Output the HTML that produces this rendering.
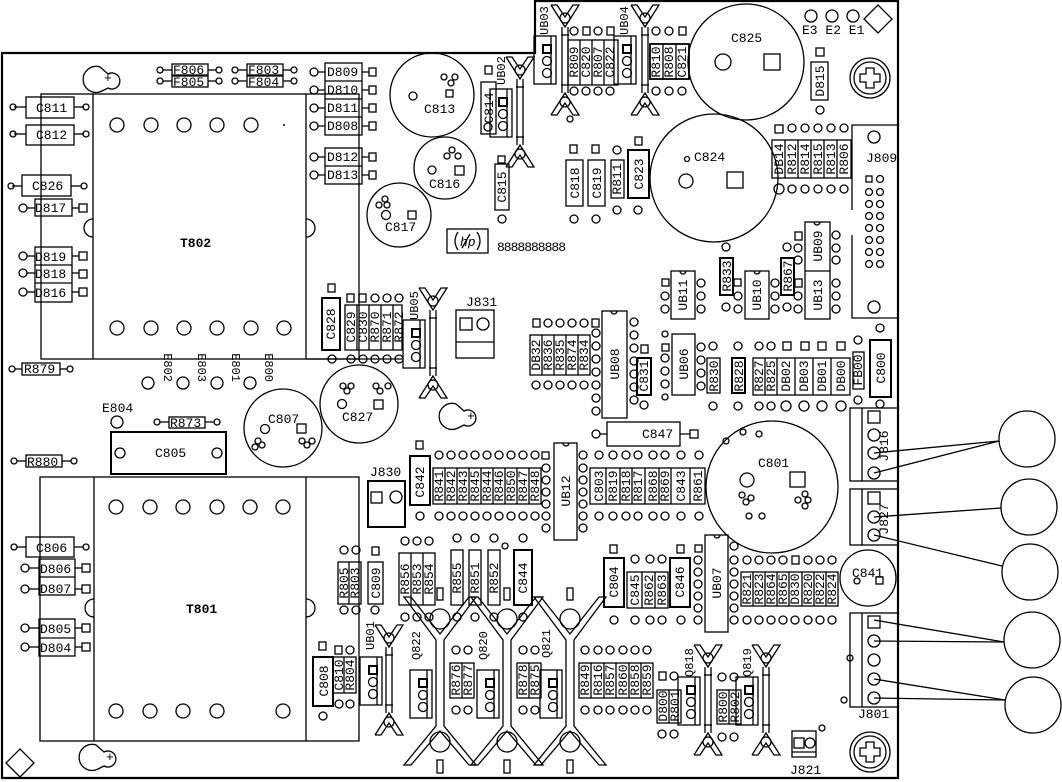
<!DOCTYPE html>
<html><head><meta charset="utf-8"><style>
html,body{margin:0;padding:0;background:#fff}
svg{display:block}
.s{fill:none;stroke:#000;stroke-width:1.3}
.b{fill:none;stroke:#000;stroke-width:2.2}
text{font-family:"Liberation Mono",monospace;font-size:13px;fill:#000}
.v{font-size:12px}
</style></head><body>
<svg width="1062" height="782" viewBox="0 0 1062 782" xmlns="http://www.w3.org/2000/svg">
<defs>
<g id="clip" class="s">
<polyline points="-14,-55 0,-33 14,-55 8,-55 0,-43 -8,-55 -14,-55"/>
<circle cx="0" cy="-42" r="5"/>
<line x1="-3" y1="-33" x2="-3" y2="33"/><line x1="3" y1="-33" x2="3" y2="33"/>
<polyline points="-14,55 0,33 14,55 8,55 0,43 -8,55 -14,55"/>
<circle cx="0" cy="42" r="5"/>
<line x1="-4" y1="-25" x2="4" y2="-25"/><line x1="-4" y1="25" x2="4" y2="25"/>
</g>
<g id="tbox" class="s">
<rect x="-26" y="-24" width="22" height="48"/><line x1="-9" y1="-24" x2="-9" y2="24"/>
<rect x="-17" y="-15" width="8" height="8" stroke-width="2"/>
<circle cx="-13" cy="1" r="4.5"/><circle cx="-13" cy="13" r="4.5"/>
</g>
<g id="hs" class="s">
<polygon points="-36,597 -29,597 0,634 29,597 36,597 4,640 4,726 36,765 29,765 0,731 -29,765 -36,765 -4,726 -4,640"/>
<circle cx="0" cy="619" r="10"/><circle cx="0" cy="742" r="10"/>
<rect x="-3" y="588" width="6" height="12"/><rect x="-3" y="760" width="6" height="13"/>
</g>
</defs>

<path class="b" d="M2,53 H535 V1 H898 V778 H2 Z"/>

<path class="s" d="M100,67 a13,13 0 1,0 2,24 l6,-3 a8,8 0 1,0 0,-14 z"/><text x="104" y="82" font-size="11">+</text>
<path class="s" d="M96,745 a13,13 0 1,0 2,24 l6,-3 a8,8 0 1,0 0,-14 z"/><text x="106" y="761" font-size="11">+</text>
<path class="s" d="M456,404 a13,13 0 1,0 2,24 l6,-3 a8,8 0 1,0 0,-14 z"/><text x="467" y="420" font-size="11">+</text>
<g class="s"><circle cx="870" cy="78" r="20"/><circle cx="870" cy="78" r="16"/><circle cx="870" cy="752" r="20"/><circle cx="870" cy="752" r="16"/></g>
<path d="M866,68h8v6h6v8h-6v6h-8v-6h-6v-8h6z" class="s" stroke-width="2"/>
<path d="M866,742h8v6h6v8h-6v6h-8v-6h-6v-8h6z" class="s" stroke-width="2"/>
<polygon class="s" stroke-width="2" points="878,5 892,19 878,33 864,19"/>
<polygon class="s" stroke-width="2" points="20,749 34,763 20,777 6,763"/>
<g class="s"><circle cx="811" cy="16" r="6"/><circle cx="832" cy="16" r="6"/><circle cx="853" cy="16" r="6"/></g>
<text x="802" y="34" font-size="12">E3 E2 E1</text>

<g class="s"><rect x="41" y="94" width="318" height="265"/><line x1="93" y1="94" x2="93" y2="359"/><line x1="306" y1="94" x2="306" y2="359"/>
<path d="M93,219 a9,9 0 0,0 0,18"/><path d="M306,219 a9,9 0 0,1 0,18"/>
<circle cx="117" cy="125" r="7"/><circle cx="151" cy="125" r="7"/><circle cx="184" cy="125" r="7"/><circle cx="217" cy="125" r="7"/><circle cx="251" cy="125" r="7"/>
<circle cx="117" cy="328" r="7"/><circle cx="151" cy="328" r="7"/><circle cx="184" cy="328" r="7"/><circle cx="217" cy="328" r="7"/><circle cx="251" cy="328" r="7"/><circle cx="284" cy="328" r="7"/></g>
<circle cx="284" cy="125" r="1" />
<text x="180" y="247" font-weight="bold">T802</text>

<g class="s"><rect x="40" y="477" width="319" height="264"/><line x1="94" y1="477" x2="94" y2="741"/><line x1="306" y1="477" x2="306" y2="741"/>
<path d="M94,599 a9,9 0 0,0 0,18"/><path d="M306,599 a9,9 0 0,1 0,18"/>
<circle cx="116" cy="507" r="7"/><circle cx="150" cy="507" r="7"/><circle cx="183" cy="507" r="7"/><circle cx="217" cy="507" r="7"/><circle cx="250" cy="507" r="7"/><circle cx="283" cy="507" r="7"/>
<circle cx="116" cy="711" r="7"/><circle cx="150" cy="711" r="7"/><circle cx="183" cy="711" r="7"/><circle cx="217" cy="711" r="7"/><circle cx="283" cy="711" r="7"/></g>
<text x="186" y="613" font-weight="bold">T801</text>

<g class="s">
<rect x="26" y="97" width="48" height="21"/><line x1="14" y1="107" x2="26" y2="107"/><line x1="74" y1="107" x2="84" y2="107"/><circle cx="13" cy="107" r="3"/><circle cx="86" cy="107" r="3"/>
<rect x="26" y="125" width="48" height="20"/><line x1="14" y1="134" x2="26" y2="134"/><line x1="74" y1="134" x2="84" y2="134"/><circle cx="13" cy="134" r="3"/><circle cx="86" cy="134" r="3"/>
<rect x="22" y="175" width="49" height="21"/><line x1="12" y1="186" x2="22" y2="186"/><line x1="71" y1="186" x2="81" y2="186"/><circle cx="11" cy="186" r="3"/><circle cx="84" cy="186" r="3"/>
<rect x="35" y="199" width="37" height="17"/><circle cx="23" cy="208" r="4"/><line x1="27" y1="208" x2="35" y2="208"/><line x1="72" y1="208" x2="79" y2="208"/><rect x="79" y="204" width="8" height="8"/>
<rect x="35" y="247" width="37" height="55"/><line x1="35" y1="265" x2="72" y2="265"/><line x1="35" y1="283" x2="72" y2="283"/>
<circle cx="23" cy="256" r="4"/><circle cx="23" cy="273" r="4"/><circle cx="23" cy="292" r="4"/>
<rect x="79" y="252" width="8" height="8"/><rect x="79" y="270" width="8" height="8"/><rect x="79" y="288" width="8" height="8"/>
<line x1="27" y1="256" x2="35" y2="256"/><line x1="27" y1="273" x2="35" y2="273"/><line x1="27" y1="292" x2="35" y2="292"/>
<line x1="72" y1="256" x2="79" y2="256"/><line x1="72" y1="273" x2="79" y2="273"/><line x1="72" y1="292" x2="79" y2="292"/>
<rect x="22" y="363" width="38" height="12"/><circle cx="12" cy="369" r="3"/><circle cx="70" cy="369" r="3"/><line x1="15" y1="369" x2="22" y2="369"/><line x1="60" y1="369" x2="67" y2="369"/>
<rect x="26" y="455" width="36" height="12"/><circle cx="14" cy="461" r="3"/><circle cx="74" cy="461" r="3"/><line x1="17" y1="461" x2="26" y2="461"/><line x1="62" y1="461" x2="71" y2="461"/>
<rect x="26" y="537" width="48" height="20"/><circle cx="14" cy="547" r="3"/><circle cx="86" cy="547" r="3"/><line x1="17" y1="547" x2="26" y2="547"/><line x1="74" y1="547" x2="83" y2="547"/>
<rect x="39" y="559" width="36" height="36"/><line x1="39" y1="577" x2="75" y2="577"/>
<circle cx="25" cy="568" r="4"/><circle cx="25" cy="589" r="4"/><rect x="82" y="564" width="8" height="8"/><rect x="82" y="585" width="8" height="8"/>
<line x1="29" y1="568" x2="39" y2="568"/><line x1="29" y1="589" x2="39" y2="589"/><line x1="75" y1="568" x2="82" y2="568"/><line x1="75" y1="589" x2="82" y2="589"/>
<rect x="39" y="619" width="36" height="37"/><line x1="39" y1="638" x2="75" y2="638"/>
<circle cx="25" cy="628" r="4"/><circle cx="25" cy="647" r="4"/><rect x="82" y="624" width="8" height="8"/><rect x="82" y="643" width="8" height="8"/>
<line x1="29" y1="628" x2="39" y2="628"/><line x1="29" y1="647" x2="39" y2="647"/><line x1="75" y1="628" x2="82" y2="628"/><line x1="75" y1="647" x2="82" y2="647"/>
</g>
<text x="36" y="112">C811</text><text x="36" y="139">C812</text><text x="32" y="190">C826</text><text x="35" y="212">D817</text>
<text x="35" y="261">D819</text><text x="35" y="278">D818</text><text x="35" y="297">D816</text>
<text x="24" y="373" font-size="12">R879</text><text x="27" y="466" font-size="12">R880</text>
<text x="36" y="552">C806</text><text x="40" y="573">D806</text><text x="40" y="593">D807</text><text x="40" y="633">D805</text><text x="40" y="652">D804</text>

<g class="s">
<rect x="172" y="64" width="36" height="11"/><rect x="172" y="76" width="36" height="11"/><rect x="247" y="64" width="36" height="11"/><rect x="247" y="76" width="36" height="11"/>
<circle cx="160" cy="70" r="3"/><circle cx="160" cy="81" r="3"/><circle cx="219" cy="70" r="3"/><circle cx="219" cy="81" r="3"/>
<circle cx="235" cy="70" r="3"/><circle cx="235" cy="81" r="3"/><circle cx="294" cy="70" r="3"/><circle cx="294" cy="81" r="3"/>
<line x1="163" y1="70" x2="172" y2="70"/><line x1="163" y1="81" x2="172" y2="81"/><line x1="208" y1="70" x2="216" y2="70"/><line x1="208" y1="81" x2="216" y2="81"/>
<line x1="238" y1="70" x2="247" y2="70"/><line x1="238" y1="81" x2="247" y2="81"/><line x1="283" y1="70" x2="291" y2="70"/><line x1="283" y1="81" x2="291" y2="81"/>
</g>
<text x="173" y="74" font-size="11">F806</text><text x="173" y="86" font-size="11">F805</text><text x="248" y="74" font-size="11">F803</text><text x="248" y="86" font-size="11">F804</text>

<g class="s">
<rect x="325" y="63" width="37" height="72"/><line x1="325" y1="81" x2="362" y2="81"/><line x1="325" y1="99" x2="362" y2="99"/><line x1="325" y1="117" x2="362" y2="117"/>
<rect x="325" y="148" width="37" height="36"/><line x1="325" y1="166" x2="362" y2="166"/>
<circle cx="314" cy="72" r="4"/><circle cx="314" cy="90" r="4"/><circle cx="314" cy="108" r="4"/><circle cx="314" cy="126" r="4"/><circle cx="314" cy="157" r="4"/><circle cx="314" cy="175" r="4"/>
<rect x="369" y="68" width="7" height="8"/><rect x="369" y="86" width="7" height="8"/><rect x="369" y="104" width="7" height="8"/><rect x="369" y="122" width="7" height="8"/><rect x="369" y="153" width="7" height="8"/><rect x="369" y="171" width="7" height="8"/>
<path d="M318,72h7M318,90h7M318,108h7M318,126h7M318,157h7M318,175h7M362,72h7M362,90h7M362,108h7M362,126h7M362,157h7M362,175h7"/>
</g>
<text x="327" y="76">D809</text><text x="327" y="94">D810</text><text x="327" y="112">D811</text><text x="327" y="130">D808</text><text x="327" y="161">D812</text><text x="327" y="179">D813</text>

<g class="s"><circle cx="148" cy="383" r="6"/><circle cx="183" cy="383" r="6"/><circle cx="217" cy="383" r="6"/><circle cx="250" cy="383" r="6"/><circle cx="117" cy="422" r="6"/></g>
<text class="v" transform="translate(164,382) rotate(90)" text-anchor="end">E802</text>
<text class="v" transform="translate(198,382) rotate(90)" text-anchor="end">E803</text>
<text class="v" transform="translate(232,382) rotate(90)" text-anchor="end">E801</text>
<text class="v" transform="translate(265,382) rotate(90)" text-anchor="end">E800</text>
<text x="102" y="412">E804</text>
<g class="s"><rect x="169" y="417" width="36" height="11"/><circle cx="157" cy="422" r="3"/><circle cx="217" cy="422" r="3"/><path d="M160,422h9M205,422h9"/>
<rect x="111" y="432" width="115" height="42" stroke-width="2"/><circle cx="120" cy="453" r="5"/><circle cx="217" cy="453" r="5"/></g>
<text x="170" y="427" font-size="11">R873</text><text x="155" y="457">C805</text>

<g class="s">
<circle cx="432" cy="95" r="42"/><circle cx="413" cy="96" r="4"/><rect x="446" y="90" width="7" height="7"/><circle cx="444" cy="77" r="3"/><circle cx="451" cy="83" r="3"/><circle cx="455" cy="77" r="3"/>
<circle cx="445" cy="168" r="31"/><circle cx="432" cy="170" r="4"/><rect x="455" y="166" width="9" height="9"/><circle cx="447" cy="156" r="3"/><circle cx="452" cy="150" r="3"/><circle cx="458" cy="156" r="3"/>
<circle cx="399" cy="215" r="32"/><circle cx="386" cy="215" r="4.5"/><rect x="408" y="211" width="8" height="8"/><circle cx="379" cy="205" r="3"/><circle cx="385" cy="199" r="3"/><circle cx="387" cy="205" r="3"/>
<circle cx="359" cy="404" r="39"/><circle cx="342" cy="404" r="4.5"/><rect x="374" y="400" width="9" height="9"/><circle cx="343" cy="386" r="3"/><circle cx="347" cy="391" r="3"/><circle cx="351" cy="386" r="3"/><circle cx="376" cy="386" r="3"/><circle cx="380" cy="391" r="3"/><circle cx="388" cy="386" r="3"/>
<circle cx="283" cy="428" r="39"/><circle cx="265" cy="429" r="4.5"/><rect x="297" y="424" width="9" height="9"/><circle cx="258" cy="441" r="3"/><circle cx="262" cy="445" r="3"/><circle cx="255" cy="447" r="3"/><circle cx="302" cy="441" r="3"/><circle cx="307" cy="445" r="3"/><circle cx="312" cy="441" r="3"/>
<circle cx="746" cy="62" r="58"/><circle cx="723" cy="62" r="8"/><rect x="764" y="54" width="16" height="16"/>
<circle cx="714" cy="178" r="64"/><circle cx="686" cy="181" r="7"/><rect x="727" y="172" width="16" height="16"/><circle cx="687" cy="159" r="2.5"/>
<circle cx="772" cy="487" r="66"/><circle cx="747" cy="480" r="7"/><rect x="790" y="472" width="15" height="15"/>
<circle cx="742" cy="495" r="3"/><circle cx="751" cy="498" r="3"/><circle cx="746" cy="502" r="3"/><circle cx="805" cy="494" r="3"/><circle cx="798" cy="500" r="3"/><circle cx="808" cy="500" r="3"/><circle cx="805" cy="506" r="3"/>
<circle cx="749" cy="516" r="3"/><circle cx="762" cy="516" r="3"/><circle cx="726" cy="441" r="3"/><circle cx="743" cy="432" r="3"/><circle cx="759" cy="434" r="3"/>
<circle cx="868" cy="578" r="28"/><circle cx="857" cy="581" r="3"/><rect x="876" y="577" width="7" height="7"/>
</g>
<text x="424" y="113">C813</text><text x="429" y="188">C816</text><text x="385" y="231">C817</text><text x="342" y="421">C827</text><text x="268" y="423">C807</text>
<text x="731" y="42">C825</text><text x="694" y="161">C824</text><text x="758" y="467">C801</text><text x="852" y="577">C841</text>

<use href="#clip" x="565" y="60"/><use href="#tbox" x="560" y="60"/>
<use href="#clip" x="645" y="60"/><use href="#tbox" x="640" y="60"/>
<use href="#clip" x="520" y="112"/><use href="#tbox" x="516" y="113"/>
<use href="#clip" x="433" y="343"/><use href="#tbox" x="429" y="344"/>
<use href="#clip" x="389" y="680"/><use href="#tbox" x="386" y="681"/>
<use href="#clip" x="708" y="700"/><use href="#tbox" x="704" y="701"/>
<use href="#clip" x="766" y="700"/><use href="#tbox" x="762" y="701"/>
<text class="v" transform="translate(548,35) rotate(-90)">UB03</text>
<text class="v" transform="translate(628,35) rotate(-90)">UB04</text>
<text class="v" transform="translate(505,85) rotate(-90)">UB02</text>
<text class="v" transform="translate(418,320) rotate(-90)">UB05</text>
<text class="v" transform="translate(374,650) rotate(-90)">UB01</text>
<text class="v" transform="translate(693,677) rotate(-90)">Q818</text>
<text class="v" transform="translate(751,677) rotate(-90)">Q819</text>

<use href="#hs" x="440" y="0"/><use href="#hs" x="507" y="0"/><use href="#hs" x="570" y="0"/>
<g class="s"><use href="#tbox" x="436" y="694"/><use href="#tbox" x="503" y="694"/><use href="#tbox" x="566" y="694"/></g>
<text class="v" transform="translate(420,660) rotate(-90)">Q822</text>
<text class="v" transform="translate(487,660) rotate(-90)">Q820</text>
<text class="v" transform="translate(550,658) rotate(-90)">Q821</text>

<g class="s">
<rect x="433" y="468" width="108" height="36"/>
<path d="M445,468v36M457,468v36M469,468v36M481,468v36M493,468v36M505,468v36M517,468v36M529,468v36"/>
<circle cx="439" cy="455" r="4"/><circle cx="451" cy="455" r="4"/><circle cx="463" cy="455" r="4"/><circle cx="475" cy="455" r="4"/><circle cx="487" cy="455" r="4"/><circle cx="499" cy="455" r="4"/><circle cx="511" cy="455" r="4"/><circle cx="523" cy="455" r="4"/><circle cx="535" cy="455" r="4"/>
<circle cx="439" cy="516" r="4"/><circle cx="451" cy="516" r="4"/><circle cx="463" cy="516" r="4"/><circle cx="475" cy="516" r="4"/><circle cx="487" cy="516" r="4"/><circle cx="499" cy="516" r="4"/><circle cx="511" cy="516" r="4"/><circle cx="523" cy="516" r="4"/><circle cx="535" cy="516" r="4"/>
<rect x="410" y="456" width="20" height="49" stroke-width="2"/><rect x="416" y="441" width="7" height="8"/><circle cx="420" cy="516" r="4"/>
<rect x="590" y="468" width="115" height="36"/>
<path d="M606,468v36M620,468v36M632,468v36M645,468v36M659,468v36M671,468v36M690,468v36"/>
<circle cx="599" cy="455" r="4"/><circle cx="613" cy="455" r="4"/><circle cx="626" cy="455" r="4"/><circle cx="638" cy="455" r="4"/><circle cx="653" cy="455" r="4"/><circle cx="665" cy="455" r="4"/><circle cx="681" cy="455" r="4"/><circle cx="699" cy="455" r="4"/>
<circle cx="599" cy="516" r="4"/><circle cx="613" cy="516" r="4"/><circle cx="626" cy="516" r="4"/><circle cx="638" cy="516" r="4"/><circle cx="653" cy="516" r="4"/><circle cx="665" cy="516" r="4"/><circle cx="681" cy="516" r="4"/><circle cx="699" cy="516" r="4"/>
<rect x="554" y="443" width="23" height="97"/><path d="M563,443a3,3 0 0,0 6,0"/>
<rect x="542" y="452" width="7" height="7"/><circle cx="546" cy="468" r="4"/><circle cx="546" cy="480" r="4"/><circle cx="546" cy="492" r="4"/><circle cx="546" cy="504" r="4"/><circle cx="546" cy="516" r="4"/><circle cx="546" cy="528" r="4"/>
<circle cx="583" cy="455" r="4"/><circle cx="583" cy="468" r="4"/><circle cx="583" cy="480" r="4"/><circle cx="583" cy="492" r="4"/><circle cx="583" cy="504" r="4"/><circle cx="583" cy="516" r="4"/><circle cx="583" cy="528" r="4"/>
<rect x="607" y="422" width="73" height="24"/><circle cx="596" cy="434" r="4"/><rect x="690" y="430" width="8" height="8"/><path d="M600,434h7M680,434h10"/>
<rect x="399" y="553" width="36" height="52"/><path d="M411,553v52M423,553v52"/>
<circle cx="405" cy="541" r="4"/><circle cx="417" cy="541" r="4"/><circle cx="429" cy="541" r="4"/><circle cx="405" cy="617" r="4"/><circle cx="417" cy="617" r="4"/><circle cx="429" cy="617" r="4"/>
<rect x="451" y="550" width="12" height="55"/><rect x="469" y="550" width="12" height="55"/><rect x="488" y="550" width="12" height="55"/><rect x="514" y="550" width="18" height="55" stroke-width="2"/>
<circle cx="457" cy="538" r="4"/><circle cx="475" cy="538" r="4"/><circle cx="494" cy="538" r="4"/><circle cx="523" cy="538" r="4"/><circle cx="505" cy="546" r="3"/>
<circle cx="457" cy="617" r="4"/><circle cx="475" cy="617" r="4"/><circle cx="494" cy="617" r="4"/><circle cx="523" cy="617" r="4"/>
<rect x="604" y="558" width="20" height="49" stroke-width="2"/><rect x="610" y="545" width="7" height="8"/><circle cx="614" cy="620" r="4"/>
<rect x="627" y="572" width="41" height="36"/><path d="M642,572v36M655,572v36"/>
<circle cx="635" cy="559" r="4"/><circle cx="650" cy="559" r="4"/><circle cx="662" cy="559" r="4"/><circle cx="635" cy="620" r="4"/><circle cx="650" cy="620" r="4"/><circle cx="662" cy="620" r="4"/>
<rect x="670" y="558" width="20" height="49" stroke-width="2"/><rect x="677" y="545" width="7" height="8"/><circle cx="681" cy="620" r="4"/>
<rect x="705" y="535" width="23" height="97"/><path d="M714,535a3,3 0 0,0 6,0"/>
<rect x="695" y="545" width="7" height="7"/><circle cx="698" cy="560" r="4"/><circle cx="698" cy="572" r="4"/><circle cx="698" cy="584" r="4"/><circle cx="698" cy="596" r="4"/><circle cx="698" cy="608" r="4"/><circle cx="698" cy="620" r="4"/>
<circle cx="734" cy="546" r="4"/><circle cx="734" cy="560" r="4"/><circle cx="734" cy="572" r="4"/><circle cx="734" cy="584" r="4"/><circle cx="734" cy="596" r="4"/><circle cx="734" cy="608" r="4"/><circle cx="734" cy="620" r="4"/>
<rect x="741" y="572" width="97" height="34"/><path d="M753,572v34M765,572v34M777,572v34M789,572v34M802,572v34M814,572v34M826,572v34"/>
<circle cx="747" cy="560" r="4"/><circle cx="759" cy="560" r="4"/><circle cx="771" cy="560" r="4"/><circle cx="783" cy="560" r="4"/><rect x="792" y="556" width="7" height="8"/><circle cx="808" cy="560" r="4"/><circle cx="820" cy="560" r="4"/><circle cx="832" cy="560" r="4"/>
<circle cx="747" cy="620" r="4"/><circle cx="759" cy="620" r="4"/><circle cx="771" cy="620" r="4"/><circle cx="783" cy="620" r="4"/><circle cx="795" cy="620" r="4"/><circle cx="808" cy="620" r="4"/><circle cx="820" cy="620" r="4"/><circle cx="832" cy="620" r="4"/>
<rect x="450" y="663" width="24" height="35"/><line x1="462" y1="663" x2="462" y2="698"/>
<rect x="517" y="663" width="24" height="35"/><line x1="529" y1="663" x2="529" y2="698"/>
<rect x="579" y="663" width="74" height="35"/><path d="M591,663v35M604,663v35M616,663v35M629,663v35M641,663v35"/>
<circle cx="456" cy="650" r="4"/><circle cx="468" cy="650" r="4"/><circle cx="523" cy="650" r="4"/><circle cx="535" cy="650" r="4"/>
<circle cx="585" cy="650" r="4"/><circle cx="598" cy="650" r="4"/><circle cx="610" cy="650" r="4"/><circle cx="623" cy="650" r="4"/><circle cx="635" cy="650" r="4"/><circle cx="647" cy="650" r="4"/>
<circle cx="456" cy="710" r="4"/><circle cx="468" cy="710" r="4"/><circle cx="523" cy="710" r="4"/><circle cx="535" cy="710" r="4"/>
<circle cx="585" cy="710" r="4"/><circle cx="598" cy="710" r="4"/><circle cx="610" cy="710" r="4"/><circle cx="623" cy="710" r="4"/><circle cx="635" cy="710" r="4"/><circle cx="647" cy="710" r="4"/>
<rect x="657" y="690" width="24" height="33"/><line x1="669" y1="690" x2="669" y2="723"/><rect x="659" y="672" width="7" height="8"/><circle cx="674" cy="676" r="4"/><circle cx="662" cy="734" r="4"/><circle cx="674" cy="734" r="4"/>
<rect x="717" y="690" width="24" height="34"/><line x1="729" y1="690" x2="729" y2="724"/><circle cx="722" cy="677" r="4"/><circle cx="734" cy="677" r="4"/><circle cx="722" cy="737" r="4"/><circle cx="734" cy="737" r="4"/>
<rect x="792" y="731" width="24" height="26"/><line x1="792" y1="752" x2="816" y2="752"/><rect x="794" y="738" width="10" height="10"/><circle cx="810" cy="743" r="5"/><circle cx="822" cy="728" r="3"/>
<rect x="322" y="298" width="18" height="52" stroke-width="2"/><rect x="328" y="284" width="7" height="8"/><circle cx="332" cy="359" r="4"/>
<rect x="345" y="305" width="57" height="45"/><path d="M357,305v45M369,305v45M381,305v45M393,305v45"/>
<rect x="347" y="294" width="7" height="8"/><rect x="359" y="294" width="7" height="8"/><circle cx="375" cy="298" r="4"/><circle cx="387" cy="298" r="4"/><circle cx="399" cy="298" r="4"/>
<circle cx="351" cy="359" r="4"/><circle cx="363" cy="359" r="4"/><circle cx="375" cy="359" r="4"/><circle cx="387" cy="359" r="4"/><circle cx="399" cy="359" r="4"/>
<line x1="306" y1="359" x2="402" y2="359"/>
<rect x="456" y="310" width="38" height="48"/><line x1="456" y1="342" x2="494" y2="342"/><rect x="460" y="318" width="12" height="12"/><circle cx="483" cy="324" r="6"/>
<rect x="368" y="481" width="37" height="46" stroke-width="2"/><rect x="371" y="492" width="11" height="11"/><circle cx="396" cy="497" r="6"/>
<rect x="530" y="335" width="60" height="40"/><path d="M542,335v40M554,335v40M566,335v40M578,335v40"/>
<rect x="533" y="319" width="7" height="8"/><circle cx="548" cy="323" r="4"/><circle cx="560" cy="323" r="4"/><circle cx="572" cy="323" r="4"/><circle cx="584" cy="323" r="4"/><rect x="592" y="319" width="7" height="8"/>
<circle cx="536" cy="385" r="4"/><circle cx="548" cy="385" r="4"/><circle cx="560" cy="385" r="4"/><circle cx="572" cy="385" r="4"/><circle cx="584" cy="385" r="4"/>
<rect x="602" y="311" width="25" height="107"/><path d="M611,311a3,3 0 0,0 6,0"/>
<circle cx="596" cy="333" r="4"/><circle cx="596" cy="346" r="4"/><circle cx="596" cy="359" r="4"/><circle cx="596" cy="372" r="4"/><circle cx="596" cy="385" r="4"/><circle cx="596" cy="398" r="4"/><circle cx="596" cy="411" r="4"/>
<circle cx="634" cy="322" r="4"/><circle cx="634" cy="335" r="4"/><circle cx="634" cy="348" r="4"/><circle cx="634" cy="361" r="4"/><circle cx="634" cy="374" r="4"/><circle cx="634" cy="387" r="4"/><circle cx="634" cy="400" r="4"/>
<rect x="637" y="358" width="14" height="37" stroke-width="2"/><rect x="641" y="345" width="7" height="8"/><circle cx="644" cy="405" r="4"/>
<rect x="672" y="334" width="23" height="61"/><rect x="662" y="344" width="7" height="7"/><circle cx="665" cy="334" r="3"/><circle cx="665" cy="358" r="4"/><circle cx="665" cy="371" r="4"/><circle cx="665" cy="384" r="4"/><circle cx="665" cy="397" r="3"/>
<circle cx="701" cy="347" r="4"/><circle cx="701" cy="360" r="4"/><circle cx="701" cy="373" r="4"/><circle cx="701" cy="386" r="4"/>
<rect x="707" y="358" width="13" height="35"/><circle cx="713" cy="346" r="4"/><circle cx="713" cy="406" r="4"/>
<rect x="732" y="358" width="13" height="35" stroke-width="2"/><circle cx="738" cy="346" r="4"/><circle cx="738" cy="406" r="4"/>
<rect x="753" y="358" width="97" height="37"/><path d="M765,358v37M777,358v37M795,358v37M813,358v37M831,358v37"/>
<circle cx="759" cy="346" r="4"/><circle cx="771" cy="346" r="4"/><rect x="783" y="342" width="8" height="8"/><rect x="801" y="342" width="8" height="8"/><rect x="818" y="342" width="8" height="8"/><rect x="837" y="342" width="8" height="8"/>
<circle cx="759" cy="406" r="4"/><circle cx="771" cy="406" r="4"/><circle cx="786" cy="406" r="5"/><circle cx="804" cy="406" r="5"/><circle cx="822" cy="406" r="5"/><circle cx="841" cy="406" r="5"/>
<rect x="853" y="352" width="11" height="37"/><circle cx="858" cy="340" r="4"/><circle cx="858" cy="400" r="4"/>
<rect x="870" y="340" width="21" height="57" stroke-width="2"/><circle cx="880" cy="328" r="4"/><circle cx="880" cy="404" r="4"/>
<rect x="671" y="271" width="24" height="48"/><path d="M680,271a3,3 0 0,0 6,0"/><rect x="662" y="279" width="7" height="7"/><circle cx="665" cy="296" r="4"/><circle cx="665" cy="309" r="4"/><circle cx="701" cy="283" r="4"/><circle cx="701" cy="296" r="4"/><circle cx="701" cy="309" r="4"/>
<rect x="720" y="258" width="13" height="37" stroke-width="2"/><circle cx="726" cy="247" r="4"/><circle cx="726" cy="307" r="4"/>
<rect x="745" y="271" width="24" height="48"/><path d="M754,271a3,3 0 0,0 6,0"/><rect x="734" y="279" width="7" height="7"/><circle cx="738" cy="296" r="4"/><circle cx="738" cy="309" r="4"/><circle cx="775" cy="283" r="4"/><circle cx="775" cy="296" r="4"/><circle cx="775" cy="309" r="4"/>
<rect x="781" y="258" width="13" height="37" stroke-width="2"/><circle cx="787" cy="247" r="4"/><circle cx="787" cy="307" r="4"/>
<rect x="805" y="222" width="25" height="97"/><line x1="805" y1="271" x2="830" y2="271"/><path d="M814,222a3,3 0 0,0 6,0"/>
<rect x="795" y="232" width="7" height="8"/><circle cx="798" cy="248" r="4"/><circle cx="798" cy="260" r="4"/><rect x="795" y="279" width="7" height="8"/><circle cx="798" cy="296" r="4"/><circle cx="798" cy="309" r="4"/>
<circle cx="836" cy="235" r="4"/><circle cx="836" cy="248" r="4"/><circle cx="836" cy="260" r="4"/><circle cx="836" cy="283" r="4"/><circle cx="836" cy="296" r="4"/><circle cx="836" cy="309" r="4"/>
<rect x="772" y="140" width="79" height="38"/><path d="M785,140v38M798,140v38M811,140v38M824,140v38M837,140v38"/>
<rect x="775" y="125" width="8" height="8"/><circle cx="792" cy="128" r="4"/><circle cx="805" cy="128" r="4"/><circle cx="818" cy="128" r="4"/><circle cx="831" cy="128" r="4"/><circle cx="844" cy="128" r="4"/>
<circle cx="779" cy="189" r="5"/><circle cx="792" cy="189" r="4"/><circle cx="805" cy="189" r="4"/><circle cx="818" cy="189" r="4"/><circle cx="831" cy="189" r="4"/><circle cx="844" cy="189" r="4"/>
<rect x="811" y="62" width="17" height="38"/><rect x="816" y="48" width="8" height="8"/><circle cx="820" cy="110" r="4"/>
<path d="M852,210V125h46M852,235V318h46"/>
<circle cx="874" cy="137" r="6"/><circle cx="874" cy="307" r="6"/>
<rect x="866" y="176" width="6" height="6"/><circle cx="880" cy="179" r="3.5"/>
<circle cx="869" cy="192" r="3.5"/><circle cx="880" cy="192" r="3.5"/><circle cx="869" cy="204" r="3.5"/><circle cx="880" cy="204" r="3.5"/><circle cx="869" cy="216" r="3.5"/><circle cx="880" cy="216" r="3.5"/>
<circle cx="869" cy="228" r="3.5"/><circle cx="880" cy="228" r="3.5"/><circle cx="869" cy="240" r="3.5"/><circle cx="880" cy="240" r="3.5"/><circle cx="869" cy="252" r="3.5"/><circle cx="880" cy="252" r="3.5"/><circle cx="869" cy="264" r="3.5"/><circle cx="880" cy="264" r="3.5"/>
<rect x="568" y="40" width="50" height="45"/><path d="M580,40v45M592,40v45M604,40v45"/>
<circle cx="574" cy="31" r="4"/><rect x="583" y="27" width="7" height="8"/><circle cx="598" cy="31" r="4"/><rect x="607" y="27" width="7" height="8"/>
<circle cx="574" cy="91" r="4"/><circle cx="586" cy="91" r="4"/><circle cx="598" cy="91" r="4"/><circle cx="610" cy="91" r="4"/>
<rect x="650" y="44" width="39" height="35" stroke-width="1.8"/><path d="M663,44v35M676,44v35"/>
<circle cx="656" cy="31" r="4"/><circle cx="669" cy="31" r="4"/><rect x="679" y="27" width="7" height="8"/>
<circle cx="656" cy="91" r="4"/><circle cx="669" cy="91" r="4"/><circle cx="682" cy="91" r="4"/><circle cx="570" cy="119" r="3"/>
<rect x="481" y="82" width="15" height="52"/><rect x="485" y="66" width="7" height="8"/><circle cx="488" cy="127" r="4"/>
<rect x="495" y="164" width="14" height="46"/><rect x="498" y="156" width="7" height="7"/><circle cx="502" cy="219" r="4"/>
<rect x="566" y="160" width="17" height="46"/><rect x="570" y="145" width="7" height="8"/><circle cx="574" cy="219" r="4"/>
<rect x="588" y="160" width="17" height="46"/><rect x="592" y="145" width="7" height="8"/><circle cx="596" cy="219" r="4"/>
<rect x="611" y="160" width="13" height="38"/><circle cx="617" cy="150" r="4"/><circle cx="617" cy="210" r="4"/>
<rect x="628" y="150" width="21" height="48" stroke-width="2"/><rect x="635" y="137" width="7" height="8"/><circle cx="638" cy="210" r="4"/>
<rect x="338" y="562" width="23" height="42"/><line x1="349" y1="562" x2="349" y2="604"/><circle cx="344" cy="550" r="4"/><circle cx="356" cy="550" r="4"/><circle cx="344" cy="610" r="4"/><circle cx="356" cy="610" r="4"/>
<rect x="368" y="562" width="15" height="42"/><rect x="372" y="547" width="7" height="8"/><circle cx="375" cy="610" r="4"/>
<rect x="313" y="657" width="20" height="49" stroke-width="2"/><rect x="319" y="642" width="7" height="8"/><circle cx="323" cy="716" r="4"/>
<rect x="333" y="657" width="23" height="36"/><line x1="344" y1="657" x2="344" y2="693"/><rect x="335" y="646" width="7" height="8"/><circle cx="350" cy="650" r="4"/><circle cx="339" cy="704" r="4"/><circle cx="350" cy="704" r="4"/>
<rect x="447" y="229" width="41" height="24"/>
<path d="M458,232q-6,9 0,18M477,232q6,9 0,18M462,248l8,-14"/>
</g>
<text x="460" y="246" font-size="11" font-style="italic">hp</text>
<text x="497" y="251" font-size="10" letter-spacing="-1" fill="#555">8888888888</text>

<g class="v">
<text transform="translate(424,482) rotate(-90)" text-anchor="middle">C842</text>
<text transform="translate(443,486) rotate(-90)" text-anchor="middle">R841</text>
<text transform="translate(455,486) rotate(-90)" text-anchor="middle">R842</text>
<text transform="translate(467,486) rotate(-90)" text-anchor="middle">R843</text>
<text transform="translate(479,486) rotate(-90)" text-anchor="middle">R845</text>
<text transform="translate(491,486) rotate(-90)" text-anchor="middle">R844</text>
<text transform="translate(503,486) rotate(-90)" text-anchor="middle">R846</text>
<text transform="translate(515,486) rotate(-90)" text-anchor="middle">R850</text>
<text transform="translate(527,486) rotate(-90)" text-anchor="middle">R847</text>
<text transform="translate(539,486) rotate(-90)" text-anchor="middle">R848</text>
<text transform="translate(570,491) rotate(-90)" text-anchor="middle">UB12</text>
<text transform="translate(603,486) rotate(-90)" text-anchor="middle">C803</text>
<text transform="translate(617,486) rotate(-90)" text-anchor="middle">R819</text>
<text transform="translate(630,486) rotate(-90)" text-anchor="middle">R818</text>
<text transform="translate(642,486) rotate(-90)" text-anchor="middle">R817</text>
<text transform="translate(657,486) rotate(-90)" text-anchor="middle">R868</text>
<text transform="translate(669,486) rotate(-90)" text-anchor="middle">R869</text>
<text transform="translate(685,486) rotate(-90)" text-anchor="middle">C843</text>
<text transform="translate(702,486) rotate(-90)" text-anchor="middle">R861</text>
<text transform="translate(409,579) rotate(-90)" text-anchor="middle">R856</text>
<text transform="translate(421,579) rotate(-90)" text-anchor="middle">R853</text>
<text transform="translate(433,579) rotate(-90)" text-anchor="middle">R854</text>
<text transform="translate(461,578) rotate(-90)" text-anchor="middle">R855</text>
<text transform="translate(479,578) rotate(-90)" text-anchor="middle">R851</text>
<text transform="translate(498,578) rotate(-90)" text-anchor="middle">R852</text>
<text transform="translate(527,578) rotate(-90)" text-anchor="middle">C844</text>
<text transform="translate(618,582) rotate(-90)" text-anchor="middle">C804</text>
<text transform="translate(639,590) rotate(-90)" text-anchor="middle">C845</text>
<text transform="translate(653,590) rotate(-90)" text-anchor="middle">R862</text>
<text transform="translate(666,590) rotate(-90)" text-anchor="middle">R863</text>
<text transform="translate(684,582) rotate(-90)" text-anchor="middle">C846</text>
<text transform="translate(721,583) rotate(-90)" text-anchor="middle">UB07</text>
<text transform="translate(751,589) rotate(-90)" text-anchor="middle">R821</text>
<text transform="translate(763,589) rotate(-90)" text-anchor="middle">R823</text>
<text transform="translate(775,589) rotate(-90)" text-anchor="middle">R864</text>
<text transform="translate(787,589) rotate(-90)" text-anchor="middle">R865</text>
<text transform="translate(799,589) rotate(-90)" text-anchor="middle">D830</text>
<text transform="translate(812,589) rotate(-90)" text-anchor="middle">R820</text>
<text transform="translate(824,589) rotate(-90)" text-anchor="middle">R822</text>
<text transform="translate(836,589) rotate(-90)" text-anchor="middle">R824</text>
<text transform="translate(460,680) rotate(-90)" text-anchor="middle">R876</text>
<text transform="translate(472,680) rotate(-90)" text-anchor="middle">R877</text>
<text transform="translate(527,680) rotate(-90)" text-anchor="middle">R878</text>
<text transform="translate(539,680) rotate(-90)" text-anchor="middle">R875</text>
<text transform="translate(589,680) rotate(-90)" text-anchor="middle">R849</text>
<text transform="translate(602,680) rotate(-90)" text-anchor="middle">R816</text>
<text transform="translate(614,680) rotate(-90)" text-anchor="middle">R857</text>
<text transform="translate(627,680) rotate(-90)" text-anchor="middle">R860</text>
<text transform="translate(639,680) rotate(-90)" text-anchor="middle">R858</text>
<text transform="translate(651,680) rotate(-90)" text-anchor="middle">R859</text>
<text transform="translate(667,706) rotate(-90)" text-anchor="middle">D800</text>
<text transform="translate(679,706) rotate(-90)" text-anchor="middle">R801</text>
<text transform="translate(727,707) rotate(-90)" text-anchor="middle">R800</text>
<text transform="translate(739,707) rotate(-90)" text-anchor="middle">R802</text>
<text transform="translate(335,324) rotate(-90)" text-anchor="middle">C828</text>
<text transform="translate(355,327) rotate(-90)" text-anchor="middle">C829</text>
<text transform="translate(367,327) rotate(-90)" text-anchor="middle">C830</text>
<text transform="translate(379,327) rotate(-90)" text-anchor="middle">R870</text>
<text transform="translate(391,327) rotate(-90)" text-anchor="middle">R871</text>
<text transform="translate(403,327) rotate(-90)" text-anchor="middle">R872</text>
<text transform="translate(540,355) rotate(-90)" text-anchor="middle">DB32</text>
<text transform="translate(552,355) rotate(-90)" text-anchor="middle">R836</text>
<text transform="translate(564,355) rotate(-90)" text-anchor="middle">R835</text>
<text transform="translate(576,355) rotate(-90)" text-anchor="middle">R874</text>
<text transform="translate(588,355) rotate(-90)" text-anchor="middle">R834</text>
<text transform="translate(619,364) rotate(-90)" text-anchor="middle">UB08</text>
<text transform="translate(648,376) rotate(-90)" text-anchor="middle">C831</text>
<text transform="translate(688,364) rotate(-90)" text-anchor="middle">UB06</text>
<text transform="translate(718,376) rotate(-90)" text-anchor="middle">R830</text>
<text transform="translate(743,376) rotate(-90)" text-anchor="middle">R828</text>
<text transform="translate(763,376) rotate(-90)" text-anchor="middle">R827</text>
<text transform="translate(775,376) rotate(-90)" text-anchor="middle">R825</text>
<text transform="translate(790,376) rotate(-90)" text-anchor="middle">DB02</text>
<text transform="translate(808,376) rotate(-90)" text-anchor="middle">DB03</text>
<text transform="translate(826,376) rotate(-90)" text-anchor="middle">DB01</text>
<text transform="translate(845,376) rotate(-90)" text-anchor="middle">DB00</text>
<text transform="translate(862,370) rotate(-90)" text-anchor="middle">FB00</text>
<text transform="translate(885,368) rotate(-90)" text-anchor="middle">C800</text>
<text transform="translate(687,295) rotate(-90)" text-anchor="middle">UB11</text>
<text transform="translate(731,276) rotate(-90)" text-anchor="middle">R833</text>
<text transform="translate(761,295) rotate(-90)" text-anchor="middle">UB10</text>
<text transform="translate(792,276) rotate(-90)" text-anchor="middle">R867</text>
<text transform="translate(822,295) rotate(-90)" text-anchor="middle">UB13</text>
<text transform="translate(822,246) rotate(-90)" text-anchor="middle">UB09</text>
<text transform="translate(783,159) rotate(-90)" text-anchor="middle">DB14</text>
<text transform="translate(796,159) rotate(-90)" text-anchor="middle">R812</text>
<text transform="translate(809,159) rotate(-90)" text-anchor="middle">R814</text>
<text transform="translate(822,159) rotate(-90)" text-anchor="middle">R815</text>
<text transform="translate(835,159) rotate(-90)" text-anchor="middle">R813</text>
<text transform="translate(848,159) rotate(-90)" text-anchor="middle">R806</text>
<text transform="translate(824,81) rotate(-90)" text-anchor="middle">D815</text>
<text transform="translate(578,62) rotate(-90)" text-anchor="middle">R809</text>
<text transform="translate(590,62) rotate(-90)" text-anchor="middle">C820</text>
<text transform="translate(602,62) rotate(-90)" text-anchor="middle">R807</text>
<text transform="translate(614,62) rotate(-90)" text-anchor="middle">C822</text>
<text transform="translate(660,62) rotate(-90)" text-anchor="middle">R810</text>
<text transform="translate(673,62) rotate(-90)" text-anchor="middle">R808</text>
<text transform="translate(686,62) rotate(-90)" text-anchor="middle">C821</text>
<text transform="translate(493,108) rotate(-90)" text-anchor="middle">C814</text>
<text transform="translate(506,187) rotate(-90)" text-anchor="middle">C815</text>
<text transform="translate(579,183) rotate(-90)" text-anchor="middle">C818</text>
<text transform="translate(601,183) rotate(-90)" text-anchor="middle">C819</text>
<text transform="translate(621,179) rotate(-90)" text-anchor="middle">R811</text>
<text transform="translate(643,174) rotate(-90)" text-anchor="middle">C823</text>
<text transform="translate(348,583) rotate(-90)" text-anchor="middle">R805</text>
<text transform="translate(359,583) rotate(-90)" text-anchor="middle">R803</text>
<text transform="translate(380,583) rotate(-90)" text-anchor="middle">C809</text>
<text transform="translate(328,681) rotate(-90)" text-anchor="middle">C808</text>
<text transform="translate(343,675) rotate(-90)" text-anchor="middle">C810</text>
<text transform="translate(354,675) rotate(-90)" text-anchor="middle">R804</text>
<text transform="translate(888,446) rotate(-90)" text-anchor="middle">J816</text>
<text transform="translate(888,519) rotate(-90)" text-anchor="middle">J827</text>
</g>
<text x="866" y="162">J809</text><text x="466" y="306">J831</text><text x="370" y="476">J830</text>
<text x="858" y="718">J801</text><text x="790" y="774">J821</text>
<text x="642" y="438">C847</text>

<g class="s">
<rect x="850" y="408" width="48" height="73"/><line x1="862" y1="408" x2="862" y2="481"/>
<rect x="868" y="411" width="12" height="12"/><circle cx="874" cy="435" r="6"/><circle cx="874" cy="453" r="6"/><circle cx="874" cy="473" r="6"/>
<rect x="850" y="489" width="48" height="56"/><line x1="862" y1="489" x2="862" y2="545"/>
<rect x="868" y="492" width="12" height="12"/><circle cx="874" cy="517" r="6"/><circle cx="874" cy="535" r="6"/>
<rect x="850" y="613" width="48" height="94"/><line x1="862" y1="613" x2="862" y2="707"/>
<rect x="868" y="616" width="12" height="12"/><circle cx="874" cy="641" r="6"/><circle cx="874" cy="660" r="6"/><circle cx="874" cy="679" r="6"/><circle cx="874" cy="698" r="6"/>
<circle cx="850" cy="658" r="3"/><circle cx="844" cy="700" r="3"/>
<circle cx="1027" cy="439" r="28"/><circle cx="1029" cy="507" r="28"/><circle cx="1030" cy="572" r="28"/><circle cx="1032" cy="640" r="28"/><circle cx="1033" cy="705" r="28"/>
<line x1="874" y1="453" x2="999" y2="441"/><line x1="874" y1="473" x2="999" y2="441"/>
<line x1="874" y1="517" x2="1001" y2="508"/><line x1="874" y1="535" x2="1002" y2="566"/>
<line x1="874" y1="620" x2="1004" y2="642"/><line x1="874" y1="641" x2="1004" y2="642"/>
<line x1="874" y1="679" x2="1005" y2="700"/><line x1="874" y1="698" x2="1005" y2="700"/>
</g>
</svg>
</body></html>
